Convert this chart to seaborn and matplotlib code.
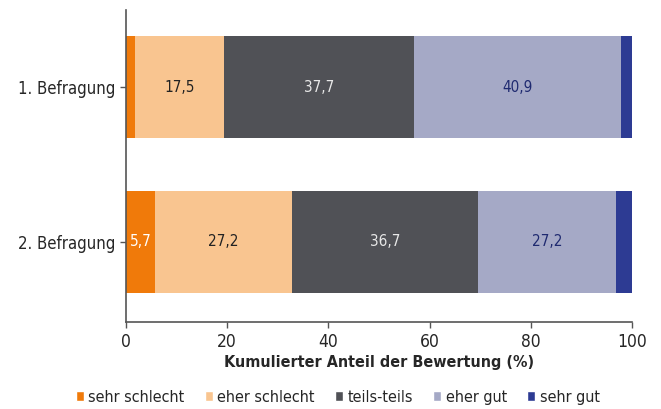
import numpy as np
import pandas as pd
import seaborn as sns
from matplotlib import pyplot as plt
from matplotlib.patches import Patch

# Data (percent shares per survey)
befragungen = ['1. Befragung', '2. Befragung']
kategorien = ['sehr schlecht', 'eher schlecht', 'teils-teils', 'eher gut', 'sehr gut']
sehr_schlecht = [1.8, 5.7]
eher_schlecht = [17.5, 27.2]
teils_teils = [37.7, 36.7]
eher_gut = [40.9, 27.2]
sehr_gut = [2.1, 3.2]

farben = ['#f07a0a', '#f9c590', '#505156', '#a5a9c6', '#2d3b93']
text_farben = ['white', '#222222', '#e8e8e8', '#1f2a70', 'white']
beschriftet = [[False, True, True, True, False], [True, True, True, True, False]]

sns.set_style('white')
plt.rcParams['font.family'] = ['DejaVu Sans']
plt.rcParams['font.stretch'] = 'condensed'

werte = np.array([sehr_schlecht, eher_schlecht, teils_teils, eher_gut, sehr_gut])
kumuliert = np.cumsum(werte, axis=0)

fig = plt.figure(figsize=(6.61, 4.09), dpi=100)
ax = fig.add_axes([0.1906, 0.2127, 0.7655, 0.7629])

# Stacked bars: draw cumulative totals from the right end backwards
for i in reversed(range(len(kategorien))):
    df = pd.DataFrame({'Befragung': befragungen, 'Wert': kumuliert[i]})
    sns.barplot(data=df, x='Wert', y='Befragung', orient='h', color=farben[i],
                width=0.66, ax=ax, saturation=1, linewidth=0)

# Value labels
for j in range(len(befragungen)):
    for i in range(len(kategorien)):
        if not beschriftet[j][i]:
            continue
        mitte = kumuliert[i][j] - werte[i][j] / 2
        ax.text(mitte, j, f'{werte[i][j]:.1f}'.replace('.', ','), ha='center', va='center',
                fontsize=11, color=text_farben[i])

ax.set_xlim(0, 100)
ax.set_ylim(1.52, -0.5)
ax.set_xticks([0, 20, 40, 60, 80, 100])
ax.set_ylabel('')
ax.set_xlabel('Kumulierter Anteil der Bewertung (%)', fontsize=11.5, fontweight='bold', labelpad=3)
ax.tick_params(axis='x', labelsize=12.5, length=4, width=1, color='#555555', bottom=True, pad=4)
ax.tick_params(axis='y', labelsize=12, length=4, width=1, color='#555555', left=True, pad=4)
for s in ['top', 'right']:
    ax.spines[s].set_visible(False)
for s in ['left', 'bottom']:
    ax.spines[s].set_color('#555555')
    ax.spines[s].set_linewidth(1.2)

handles = [Patch(facecolor=c, label=k) for c, k in zip(farben, kategorien)]
fig.legend(handles=handles, loc='center', bbox_to_anchor=(0.511, 0.029), ncol=5, frameon=False,
           fontsize=11.5, handlelength=0.5, handleheight=0.5, handletextpad=0.3, columnspacing=1.25)

plt.savefig('out.png', dpi=100)
